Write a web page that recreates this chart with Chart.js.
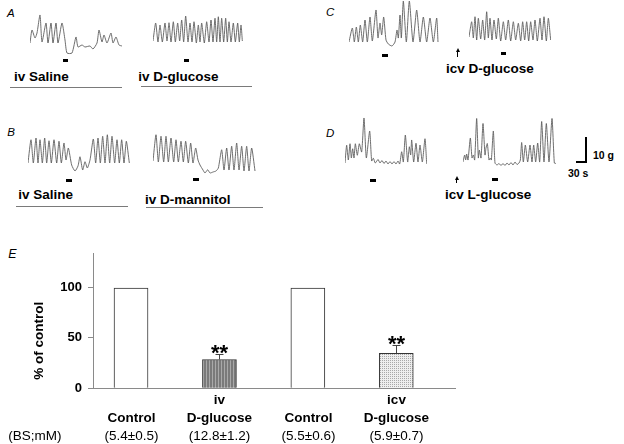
<!DOCTYPE html>
<html>
<head>
<meta charset="utf-8">
<script src="https://cdn.jsdelivr.net/npm/chart.js@4.4.0/dist/chart.umd.min.js"></script>
<style>
  html, body { margin: 0; padding: 0; background: #fff; }
  #fig { position: relative; width: 624px; height: 444px; overflow: hidden; font-family: "Liberation Sans", Arial, sans-serif; color: #000; }
  #fig canvas { position: absolute; }
  .lbl { position: absolute; font-weight: bold; font-size: 13.5px; line-height: 1; white-space: nowrap; }
  .small { font-size: 10.5px; }
  .panel { position: absolute; font-style: italic; font-size: 11.5px; line-height: 1; }
  .mark { position: absolute; background: #000; }
  .rule { position: absolute; height: 1px; background: #7a7a7a; }
  .head { position: absolute; width: 0; height: 0; border-left: 2px solid transparent; border-right: 2px solid transparent; border-bottom: 4px solid #000; }
</style>
</head>
<body>
<div id="fig">
  <div class="panel" style="left:7px;top:7.8px">A</div>
  <div class="panel" style="left:326px;top:6.8px">C</div>
  <div class="panel" style="left:7.3px;top:126.8px">B</div>
  <div class="panel" style="left:326px;top:127.8px">D</div>
  <div class="panel" style="left:8.3px;top:248.4px;font-size:12.5px">E</div>

  <div class="lbl" style="left:14px;top:69.5px">iv Saline</div>
  <div class="lbl" style="left:138.3px;top:69.5px">iv D-glucose</div>
  <div class="lbl" style="left:446px;top:61.5px">icv D-glucose</div>
  <div class="lbl" style="left:18.3px;top:188.2px">iv Saline</div>
  <div class="lbl" style="left:145px;top:192.5px">iv D-mannitol</div>
  <div class="lbl" style="left:445px;top:188.3px">icv L-glucose</div>
  <div class="lbl small" style="left:593px;top:150px">10 g</div>
  <div class="lbl small" style="left:568px;top:168px">30 s</div>

  <div class="rule" style="left:10px;top:87px;width:112px"></div>
  <div class="rule" style="left:141px;top:86px;width:111px"></div>
  <div class="rule" style="left:16px;top:206px;width:112px"></div>
  <div class="rule" style="left:146px;top:206.5px;width:117px"></div>

  <!-- injection markers -->
  <div class="mark" style="left:63px;top:59px;width:5px;height:3px"></div>
  <div class="mark" style="left:184px;top:58.5px;width:5px;height:3px"></div>
  <div class="mark" style="left:382px;top:53.5px;width:6px;height:3px"></div>
  <div class="mark" style="left:501px;top:52px;width:5px;height:3px"></div>
  <div class="mark" style="left:66px;top:178.5px;width:6px;height:3px"></div>
  <div class="mark" style="left:193px;top:177.5px;width:6px;height:3px"></div>
  <div class="mark" style="left:370px;top:178.5px;width:6px;height:3px"></div>
  <div class="mark" style="left:492px;top:178px;width:6px;height:3px"></div>

  <!-- icv arrows -->
  <div class="mark" style="left:457px;top:51px;width:1px;height:6px"></div>
  <div class="head" style="left:455.5px;top:48px"></div>
  <div class="mark" style="left:456px;top:179px;width:1px;height:4px"></div>
  <div class="head" style="left:454.5px;top:175.5px"></div>

  <!-- scale bar -->
  <div class="mark" style="left:585px;top:137px;width:2px;height:26px"></div>
  <div class="mark" style="left:576px;top:161px;width:11px;height:2px"></div>

  <canvas id="chartE" width="624" height="204" style="left:0;top:240px"></canvas>
</div>

<script>
// Contraction traces: [time (s) from trace start, force (g) above trace floor]
var traceA1 = [[0,4.8],[6,10],[15,6.8],[21,8.8],[30,16],[36,5.2],[48,12.8],[54,4.8],[63,12.8],[69,4.8],
  [78,12.8],[84,4.8],[96,12.8],[105,6],[111,0.8],[126,0.8],[138,7.2],[144,3.2],[156,4],[165,3.2],
  [180,3.6],[189,2.4],[201,4.8],[207,10],[216,5.2],[222,8],[231,4.8],[243,8.8],[249,4.8],[258,7.2],
  [267,4],[276,3.6]];
var traceA2 = [[0,5.6],[8,12.8],[15,5.2],[21,12],[28,5.2],[36,12.8],[42,5.6],[48,12.9],[54,5.2],[61,13.3],
  [67,5.2],[74,12.8],[80,5.6],[86,14],[92,5.2],[98,15.6],[105,5.2],[111,12.8],[117,5.2],[123,13.3],
  [130,4.8],[136,12],[141,5.2],[146,12.8],[154,4.8],[161,13.3],[168,5.2],[174,14],[180,5.2],[186,14.7],
  [191,5.2],[196,15.3],[201,5.2],[206,14.7],[212,5.2],[218,14.7],[223,5.2],[228,13.3],[234,5.2],[241,12.8],
  [247,5.2],[254,12.8],[259,5.2],[264,12],[268,5.6]];
var traceC1 = [[0,2.4],[10,8],[16,2.4],[22,8.4],[28,2.4],[34,9.2],[41,2.4],[48,11.2],[55,2.4],[63,12.4],
  [70,2.8],[81,15.2],[87,4],[93,10],[98,5.2],[104,12.4],[111,3.2],[118,1.6],[129,0.8],[138,2.4],
  [144,7.2],[148,4],[153,13.2],[157,4],[163,18.8],[172,2.4],[181,18.8],[192,2.4],[203,15.2],[213,2.4],
  [223,12.4],[233,2.4],[243,12],[253,2.4],[263,12],[267,2.4]];
var traceC2 = [[0,4.4],[8,10.5],[13,4],[18,12.5],[23,3.2],[28,11.9],[35,3.6],[41,11.2],[47,3.2],[53,14.5],
  [58,4],[63,11.9],[69,3.2],[75,11.2],[82,3.6],[88,11.9],[95,2.8],[103,10.5],[110,3.2],[118,11.2],
  [125,2.8],[133,10.5],[140,3.2],[148,9.9],[155,2.8],[161,10.5],[167,3.2],[173,10.5],[179,2.8],[185,10.5],
  [192,3.2],[198,11.2],[205,2.8],[213,11.9],[219,3.2],[225,12.5],[232,2.8],[238,11.9],[245,3.2]];
var traceB1 = [[0,5.2],[9,14.5],[16,5.2],[24,15.2],[30,5.2],[36,14.5],[43,5.2],[50,15.2],[56,5.2],[63,14.1],
  [70,5.2],[78,14.5],[86,5.2],[93,13.9],[100,5.2],[108,13.2],[114,6.4],[121,11.2],[131,4.4],[141,2],
  [150,4],[156,7.7],[164,2.4],[171,5.7],[178,3.2],[186,6.4],[196,14.8],[203,5.2],[210,15.2],[217,5.2],
  [224,15.9],[231,5.2],[238,16.5],[245,5.2],[252,15.9],[260,5.2],[267,14.5],[274,5.2],[281,14.5],[288,5.2],
  [295,13.9],[304,5.2]];
var traceB2 = [[0,6],[9,16.5],[16,5.6],[24,15.9],[32,5.6],[39,15.9],[46,5.6],[54,15.2],[62,5.6],[69,14.5],
  [76,5.6],[84,13.9],[91,5.6],[98,13.9],[106,5.2],[113,13.2],[120,5.2],[128,11.2],[135,6.4],[141,4.4],
  [150,2.4],[156,1.2],[164,2.5],[171,1.2],[180,1.6],[189,2],[196,3.2],[206,10.5],[213,2.4],[221,11.2],
  [228,2.4],[236,11.9],[243,2.4],[251,13.2],[258,2.4],[266,11.9],[273,2],[281,11.9],[288,2],[296,11.2],
  [306,2]];
var traceD1 = [[0,1.6],[5,8.7],[10,2.8],[15,9.3],[19,3.6],[23,7.3],[27,3.6],[31,9.3],[37,4.7],[43,9.3],
  [50,6],[57,19.6],[64,3.6],[74,14.4],[80,2.4],[85,3.5],[91,1.6],[99,3],[105,1.6],[111,2.6],
  [117,1.4],[123,2.4],[129,1.2],[135,2.2],[141,1.2],[147,2.2],[153,1.2],[159,2.4],[164,1.2],[170,6.1],
  [175,2],[181,12.8],[188,2],[193,8.1],[197,4.8],[200,10.8],[206,2],[213,9.5],[219,2],[225,8.8],
  [232,2],[240,11.3],[245,1.3]];
var traceD2 = [[0,2],[5,4.8],[8,2.8],[11,5.2],[15,2.8],[22,11.6],[27,3.6],[31,4.8],[35,2.8],[41,19.4],
  [46,3.6],[49,6.8],[54,3.6],[60,17.4],[66,4.8],[69,7.6],[73,9.4],[78,2.8],[82,3.6],[85,2.8],
  [91,14.4],[96,1.6],[102,0.8],[108,1.4],[114,0.6],[120,1.4],[126,0.6],[132,1.6],[138,0.8],[144,1.8],
  [150,0.8],[156,2],[162,1],[168,1.6],[172,2.8],[176,9.8],[181,2],[187,8.8],[194,2],[201,8.8],
  [207,2],[212,8.8],[218,2],[224,9.6],[230,2],[236,18.2],[243,2],[250,17.4],[258,2],[267,19.4],
  [274,1.6],[279,1.4]];

// Panel E: % of control
var barPos = [1, 2, 3, 4];
var routeLabels = ['', 'iv', '', 'icv'];
var treatLabels = ['Control', 'D-glucose', 'Control', 'D-glucose'];
var bsLabels = ['(5.4\u00b10.5)', '(12.8\u00b11.2)', '(5.5\u00b10.6)', '(5.9\u00b10.7)'];
var pctValues = [99, 28.5, 99, 34.5];
var pctErrors = [0, 5.7, 0, 8.7];
var sigMarks = ['', '**', '', '**'];
var yTicks = [0, 50, 100];

var SEC_PER_PX = 3;    // 30 s bar = 10 px
var G_PER_PX = 0.4;    // 10 g bar = 25 px
var FONT = '"Liberation Sans", Arial, sans-serif';

var fig = document.getElementById('fig');

function drawTrace(points, left, bottom, w, h) {
    var c = document.createElement('canvas');
    c.width = w + 4;
    c.height = h + 4;
    c.style.left = (left - 2) + 'px';
    c.style.top = (bottom - h - 2) + 'px';
    fig.appendChild(c);
    new Chart(c.getContext('2d'), {
        type: 'line',
        data: {
            datasets: [{
                data: points.map(function (p) { return { x: p[0], y: p[1] }; }),
                borderColor: '#5e5e5e',
                borderWidth: 0.9,
                pointRadius: 0,
                tension: 0.2
            }]
        },
        options: {
            responsive: false,
            animation: false,
            devicePixelRatio: 1,
            events: [],
            layout: { padding: 2 },
            plugins: { legend: { display: false }, tooltip: { enabled: false } },
            scales: {
                x: { type: 'linear', display: false, min: 0, max: w * SEC_PER_PX },
                y: { display: false, min: 0, max: h * G_PER_PX }
            }
        }
    });
}

drawTrace(traceA1, 30, 55, 92, 42);
drawTrace(traceA2, 153, 55, 90, 42);
drawTrace(traceC1, 349, 48, 90, 48);
drawTrace(traceC2, 469, 48, 82, 48);
drawTrace(traceB1, 28, 176, 102, 44);
drawTrace(traceB2, 153, 176, 103, 44);
drawTrace(traceD1, 345, 167, 82, 51);
drawTrace(traceD2, 463, 167, 93, 51);

// bar fills
function stripes() {
    var p = document.createElement('canvas');
    p.width = 3; p.height = 3;
    var g = p.getContext('2d');
    g.fillStyle = '#7a7a7a'; g.fillRect(0, 0, 3, 3);
    g.fillStyle = '#a9a9a9'; g.fillRect(2, 0, 1, 3);
    return g.createPattern(p, 'repeat');
}
function dots() {
    var p = document.createElement('canvas');
    p.width = 2; p.height = 2;
    var g = p.getContext('2d');
    g.fillStyle = '#eeeeee'; g.fillRect(0, 0, 2, 2);
    g.fillStyle = '#a8a8a8'; g.fillRect(0, 0, 1, 1);
    return g.createPattern(p, 'repeat');
}

var annotE = {
    id: 'annotE',
    afterDraw: function (chart) {
        var ctx = chart.ctx, x = chart.scales.x, y = chart.scales.y;
        var bottom = chart.chartArea.bottom;
        ctx.save();
        ctx.strokeStyle = '#444';
        ctx.lineWidth = 1;
        ctx.fillStyle = '#000';
        ctx.textAlign = 'center';
        ctx.textBaseline = 'alphabetic';
        barPos.forEach(function (pos, i) {
            var px = Math.round(x.getPixelForValue(pos)) + 0.5;
            if (pctErrors[i]) {
                var base = y.getPixelForValue(pctValues[i]);
                var top = Math.round(y.getPixelForValue(pctValues[i] + pctErrors[i])) + 0.5;
                ctx.beginPath();
                ctx.moveTo(px, base); ctx.lineTo(px, top);
                ctx.moveTo(px - 4, top); ctx.lineTo(px + 4, top);
                ctx.stroke();
                ctx.font = 'bold 22px ' + FONT;
                ctx.fillText(sigMarks[i], px, top + 5.5);
            }
            ctx.font = 'bold 13.5px ' + FONT;
            ctx.fillText(routeLabels[i], px, bottom + 15.7);
            ctx.fillText(treatLabels[i], px, bottom + 33.4);
            ctx.font = '13.5px ' + FONT;
            ctx.fillText(bsLabels[i], px, bottom + 51.2);
        });
        ctx.textAlign = 'left';
        ctx.fillText('(BS;mM)', 8.3, bottom + 51.2);
        // y title
        ctx.translate(43.3, 100.8);
        ctx.rotate(-Math.PI / 2);
        ctx.textAlign = 'center';
        ctx.font = 'bold 13.5px ' + FONT;
        ctx.fillText('% of control', 0, 0);
        ctx.restore();
    }
};

var eChart = new Chart(document.getElementById('chartE').getContext('2d'), {
    type: 'bar',
    data: {
        datasets: [{
            data: barPos.map(function (p, i) { return { x: p, y: pctValues[i] }; }),
            backgroundColor: ['#ffffff', stripes(), '#ffffff', dots()],
            borderColor: '#333',
            borderWidth: 1,
            barThickness: 34
        }]
    },
    options: {
        responsive: false,
        animation: false,
        devicePixelRatio: 1,
        events: [],
        layout: { padding: { top: 12.7, right: 168.3, left: 0, bottom: 0 } },
        plugins: { legend: { display: false }, tooltip: { enabled: false } },
        scales: {
            x: {
                type: 'linear',
                offset: false,
                min: 0.57,
                max: 4.672,
                grid: { display: false },
                border: { display: true, color: '#8a8a8a', width: 1 },
                ticks: { display: false },
                afterFit: function (s) { s.height = 55.7; }
            },
            y: {
                min: 0,
                max: 133,
                afterBuildTicks: function (s) { s.ticks = yTicks.map(function (v) { return { value: v }; }); },
                grid: { drawOnChartArea: false, drawTicks: true, tickLength: 5, color: '#8a8a8a' },
                border: { display: true, color: '#8a8a8a', width: 1 },
                ticks: { color: '#000', padding: 6, font: { family: FONT, size: 13, weight: 'bold' } },
                afterFit: function (s) { s.width = 93; }
            }
        }
    },
    plugins: [annotE]
});
</script>
</body>
</html>
